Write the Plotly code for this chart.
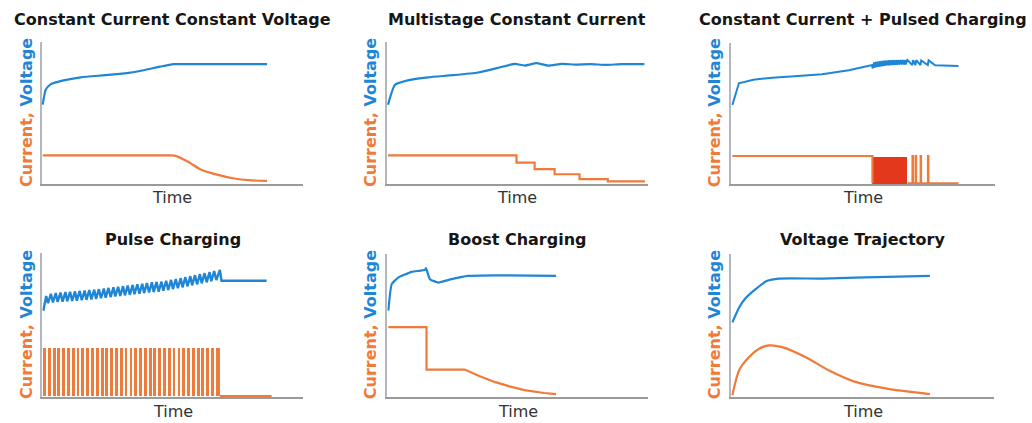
import plotly.graph_objects as go

W, H = 1032, 423
BLUE = "#1f86d6"
ORANGE = "#f07a3a"
RED = "#e4381c"
TXT = "#161616"
FONT = "DejaVu Sans"

titles = ["Constant Current Constant Voltage", "Multistage Constant Current",
          "Constant Current + Pulsed Charging", "Pulse Charging",
          "Boost Charging", "Voltage Trajectory"]
x_label = "Time"
y_label_current = "Current,"
y_label_voltage = "Voltage"

# ---- Panel 1: CCCV ----
t_v1 = [0, 0.011, 0.03, 0.08, 0.146, 0.24, 0.324, 0.388, 0.45, 0.503, 0.6, 0.862]
v1 = [0.556, 0.66, 0.70, 0.728, 0.75, 0.765, 0.78, 0.80, 0.825, 0.843, 0.843, 0.843]
t_i1 = [0, 0.49, 0.507, 0.56, 0.605, 0.67, 0.73, 0.80, 0.862]
i1 = [0.197, 0.197, 0.195, 0.15, 0.099, 0.06, 0.035, 0.02, 0.016]

# ---- Panel 2: Multistage CC ----
t_v2 = [0, 0.027, 0.08, 0.155, 0.25, 0.347, 0.42, 0.488, 0.527, 0.572, 0.617, 0.67, 0.72, 0.78, 0.84, 0.9, 0.988]
v2 = [0.556, 0.697, 0.73, 0.75, 0.765, 0.784, 0.815, 0.845, 0.833, 0.85, 0.833, 0.845, 0.84, 0.843, 0.838, 0.843, 0.843]
t_i2 = [0, 0.495, 0.565, 0.642, 0.738, 0.847, 0.99]
i2 = [0.197, 0.145, 0.099, 0.063, 0.028, 0.012, 0.012]

# ---- Panel 3: CC + pulsed ----
t_v3 = [0, 0.025, 0.08, 0.152, 0.25, 0.342, 0.444, 0.534]
v3 = [0.556, 0.71, 0.735, 0.75, 0.762, 0.775, 0.803, 0.84]
t_v3_end = [0.773, 0.862]
v3_end = [0.838, 0.833]
i3_level = 0.193
t_i3_flat_end = 0.534
p3_on = [0.534, 0.541, 0.548, 0.555, 0.562, 0.569, 0.576, 0.583, 0.590, 0.597, 0.604, 0.611,
         0.618, 0.626, 0.634, 0.643, 0.652, 0.660, 0.686, 0.698, 0.717, 0.745]
p3_off = [0.541, 0.548, 0.555, 0.562, 0.569, 0.576, 0.583, 0.590, 0.597, 0.604, 0.611, 0.618,
          0.626, 0.634, 0.643, 0.652, 0.660, 0.667, 0.689, 0.701, 0.720, 0.748]
p3_vlo = [0.815, 0.82, 0.825, 0.828, 0.83, 0.832, 0.834, 0.836, 0.838, 0.838, 0.84, 0.84,
          0.842, 0.842, 0.843, 0.843, 0.843, 0.843, 0.84, 0.84, 0.84, 0.84]
p3_vhi = [0.86, 0.862, 0.864, 0.866, 0.868, 0.87, 0.871, 0.872, 0.873, 0.873, 0.874, 0.874,
          0.875, 0.875, 0.875, 0.875, 0.875, 0.875, 0.875, 0.875, 0.873, 0.873]
p3_dense = 18
t_i3_end = 0.862

# ---- Panel 4: Pulse charging ----
p4_on = [0.000, 0.018, 0.037, 0.055, 0.074, 0.092, 0.111, 0.129, 0.148, 0.166, 0.185, 0.203,
         0.222, 0.240, 0.259, 0.277, 0.296, 0.314, 0.333, 0.351, 0.370, 0.388, 0.407, 0.425,
         0.444, 0.462, 0.481, 0.499, 0.518, 0.536, 0.555, 0.573, 0.592, 0.610, 0.629, 0.647, 0.666]
p4_off = [0.011, 0.029, 0.048, 0.066, 0.085, 0.103, 0.122, 0.140, 0.159, 0.177, 0.196, 0.214,
          0.233, 0.251, 0.270, 0.288, 0.307, 0.325, 0.344, 0.362, 0.381, 0.399, 0.418, 0.436,
          0.455, 0.473, 0.492, 0.510, 0.529, 0.547, 0.566, 0.584, 0.603, 0.621, 0.640, 0.658, 0.680]
p4_level = 0.338
p4_vlo = [0.597, 0.650, 0.655, 0.658, 0.660, 0.662, 0.665, 0.667, 0.670, 0.673, 0.676, 0.679,
          0.684, 0.688, 0.692, 0.696, 0.700, 0.704, 0.708, 0.712, 0.716, 0.720, 0.724, 0.727,
          0.730, 0.736, 0.742, 0.748, 0.754, 0.760, 0.767, 0.774, 0.781, 0.788, 0.795, 0.803, 0.811]
p4_vhi = [0.700, 0.715, 0.720, 0.724, 0.727, 0.729, 0.732, 0.735, 0.738, 0.741, 0.744, 0.747,
          0.752, 0.756, 0.760, 0.764, 0.768, 0.772, 0.777, 0.781, 0.785, 0.790, 0.795, 0.798,
          0.800, 0.806, 0.812, 0.818, 0.824, 0.831, 0.838, 0.845, 0.852, 0.859, 0.866, 0.874, 0.882]
t_v4_end = [0.686, 0.86]
v4_end = [0.806, 0.806]
t_i4_end = [0.680, 0.879]

# ---- Panel 5: Boost ----
t_v5 = [0, 0.013, 0.038, 0.09, 0.141, 0.145, 0.16, 0.192, 0.243, 0.307, 0.41, 0.646]
v5 = [0.6, 0.786, 0.832, 0.872, 0.886, 0.898, 0.821, 0.797, 0.821, 0.844, 0.848, 0.844]
t_i5 = [0, 0.147, 0.147, 0.294, 0.35, 0.409, 0.47, 0.524, 0.6, 0.646]
i5 = [0.483, 0.483, 0.185, 0.185, 0.14, 0.098, 0.065, 0.04, 0.02, 0.012]

# ---- Panel 6: Voltage trajectory ----
t_v6 = [0, 0.026, 0.051, 0.089, 0.133, 0.178, 0.343, 0.47, 0.755]
v6 = [0.517, 0.622, 0.688, 0.751, 0.809, 0.825, 0.825, 0.832, 0.844]
t_i6 = [0, 0.026, 0.064, 0.102, 0.14, 0.19, 0.279, 0.368, 0.47, 0.596, 0.755]
i6 = [0.005, 0.18, 0.273, 0.331, 0.355, 0.343, 0.273, 0.18, 0.098, 0.049, 0.012]

# panel boxes in pixels: left, right, top, bottom
boxes = [(41.7, 303, 42, 184), (387, 647.5, 42, 184), (731.3, 994.7, 42.5, 184),
         (42.3, 303, 253, 397), (387.3, 648, 253.7, 396.7), (731.3, 994, 253.7, 396.7)]
title_y = [20, 20, 20, 239, 239, 239]
time_y = [197, 197, 197, 411, 411, 411]
ylab_x = [26, 370, 714, 26, 370, 714]

fig = go.Figure()


def ax(k):
    return ("x" if k == 1 else f"x{k}"), ("y" if k == 1 else f"y{k}")


def line(k, x, y, color, width=2.2, shape="linear", smoothing=None):
    xa, ya = ax(k)
    ln = dict(color=color, width=width, shape=shape)
    if smoothing is not None:
        ln["smoothing"] = smoothing
    fig.add_trace(go.Scatter(x=x, y=y, mode="lines", line=ln, xaxis=xa, yaxis=ya,
                             showlegend=False, hoverinfo="skip"))


def bars(k, on, off, level, color):
    xa, ya = ax(k)
    fig.add_trace(go.Bar(x=[(a + b) / 2 for a, b in zip(on, off)],
                         y=[level] * len(on), width=[b - a for a, b in zip(on, off)],
                         marker=dict(color=color, line=dict(width=0)),
                         xaxis=xa, yaxis=ya, showlegend=False, hoverinfo="skip"))


def square(on, off, level):
    xs, ys = [], []
    for a, b in zip(on, off):
        xs += [a, a, b, b]
        ys += [0, level, level, 0]
    return xs, ys


# Panel 1
line(1, t_i1, i1, ORANGE, shape="spline", smoothing=0.5)
line(1, t_v1, v1, BLUE, shape="spline", smoothing=0.5)
# Panel 2
line(2, t_i2, i2, ORANGE, shape="hv")
line(2, t_v2, v2, BLUE, shape="spline", smoothing=0.5)
# Panel 3
bars(3, p3_on[:p3_dense], p3_off[:p3_dense], i3_level, RED)
sx, sy = square(p3_on[p3_dense:], p3_off[p3_dense:], i3_level)
line(3, [0, t_i3_flat_end, t_i3_flat_end], [i3_level, i3_level, 0], ORANGE)
line(3, [p3_off[p3_dense - 1]] + sx + [t_i3_end], [0] + sy + [0], ORANGE, width=1.8)
vx3, vy3 = list(t_v3), list(v3)
for a, b, lo, hi in zip(p3_on, p3_off, p3_vlo, p3_vhi):
    vx3 += [a, b]
    vy3 += [lo, hi]
vx3 += t_v3_end
vy3 += v3_end
line(3, vx3, vy3, BLUE, width=2)
# Panel 4
bars(4, p4_on, p4_off, p4_level, ORANGE)
line(4, t_i4_end, [0, 0], ORANGE)
vx4, vy4 = [], []
for a, b, lo, hi in zip(p4_on, p4_off, p4_vlo, p4_vhi):
    vx4 += [a, b]
    vy4 += [lo, hi]
vx4 += t_v4_end
vy4 += v4_end
line(4, vx4, vy4, BLUE, width=2.4)
# Panel 5
line(5, t_i5, i5, ORANGE)
line(5, t_v5, v5, BLUE, shape="spline", smoothing=0.4)
# Panel 6
line(6, t_i6, i6, ORANGE, shape="spline", smoothing=0.7)
line(6, t_v6, v6, BLUE, shape="spline", smoothing=0.6)

layout = dict(width=W, height=H, margin=dict(l=0, r=0, t=0, b=0),
              paper_bgcolor="white", plot_bgcolor="white", bargap=0)
annotations = []
for k, (l, r, t, b) in enumerate(boxes, start=1):
    xk = "xaxis" if k == 1 else f"xaxis{k}"
    yk = "yaxis" if k == 1 else f"yaxis{k}"
    xa, ya = ax(k)
    layout[xk] = dict(domain=[l / W, r / W], range=[-0.004, 1], anchor=ya,
                      showgrid=False, zeroline=False, showticklabels=False, ticks="",
                      showline=True, linecolor="#9a9a9a", linewidth=1.5,
                      layer="below traces", fixedrange=True)
    layout[yk] = dict(domain=[1 - b / H, 1 - t / H], range=[-0.006, 1], anchor=xa,
                      showgrid=False, zeroline=False, showticklabels=False, ticks="",
                      showline=True, linecolor="#b4b6c0", linewidth=1.5,
                      layer="below traces", fixedrange=True)
    cx = (l + r) / 2 / W
    annotations.append(dict(text=f"<b>{titles[k-1]}</b>", x=cx, y=1 - title_y[k-1] / H,
                            xref="paper", yref="paper", xanchor="center", yanchor="middle",
                            showarrow=False, font=dict(family=FONT, size=16, color=TXT)))
    annotations.append(dict(text=x_label, x=cx, y=1 - time_y[k-1] / H,
                            xref="paper", yref="paper", xanchor="center", yanchor="middle",
                            showarrow=False, font=dict(family=FONT, size=16, color="#333333")))
    annotations.append(dict(
        text=f"<b><span style='color:{ORANGE}'>{y_label_current}</span> "
             f"<span style='color:{BLUE}'>{y_label_voltage}</span></b>",
        x=ylab_x[k-1] / W, y=1 - (t + b) / 2 / H, textangle=-90,
        xref="paper", yref="paper", xanchor="center", yanchor="middle",
        showarrow=False, font=dict(family=FONT, size=16)))
layout["annotations"] = annotations
fig.update_layout(**layout)
fig.write_html("out.html", config={"displayModeBar": False},
               post_script="document.body.style.margin='0';document.body.style.overflow='hidden';")
